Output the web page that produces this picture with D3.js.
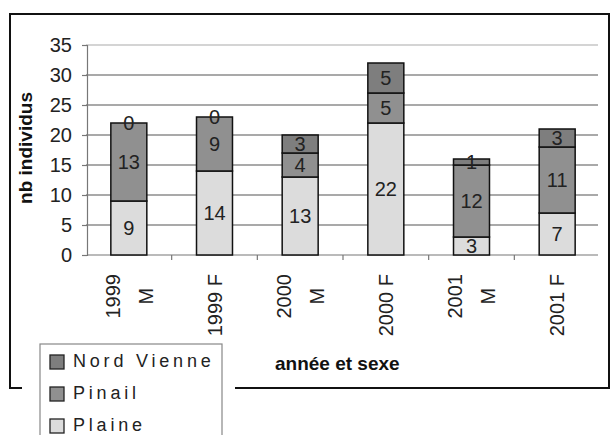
<!DOCTYPE html>
<html><head><meta charset="utf-8">
<script src="https://cdn.jsdelivr.net/npm/d3@7"></script>
<style>body{margin:0;background:#fff}svg{display:block}</style>
</head><body>
<script>
const categories = ["1999 M", "1999 F", "2000 M", "2000 F", "2001 M", "2001 F"];
const categoryLines = [["1999","M"],["1999 F"],["2000","M"],["2000 F"],["2001","M"],["2001 F"]];
const seriesNames = ["Plaine", "Pinail", "Nord Vienne"];
const plaine = [9, 14, 13, 22, 3, 7];
const pinail = [13, 9, 4, 5, 12, 11];
const nordVienne = [0, 0, 3, 5, 1, 3];
const yTicks = [0, 5, 10, 15, 20, 25, 30, 35];
const colors = {"Plaine": "#dcdcdc", "Pinail": "#909090", "Nord Vienne": "#7e7e7e"};

const W = 610, H = 435;
const font = "'Liberation Sans', Arial, sans-serif";
const svg = d3.select("body").append("svg").attr("width", W).attr("height", H);

const x = d3.scaleBand().domain(categories).range([86, 600]).paddingInner(0.58).paddingOuter(0.29);
const y = d3.scaleLinear().domain([0, 35]).range([255, 45]);

// frame
svg.append("path").attr("d", "M22,388 H10 V14 H609 V388 H235")
  .attr("fill", "none").attr("stroke", "#111").attr("stroke-width", 2);

// gridlines
svg.append("g").selectAll("line").data(yTicks.filter(d => d > 0)).join("line")
  .attr("x1", 86).attr("x2", 598).attr("y1", d => y(d)).attr("y2", d => y(d))
  .attr("stroke", d => d === 35 ? "#aaa" : "#555").attr("stroke-width", 1.2);

// y axis
const yAxis = d3.axisLeft(y).tickValues(yTicks).tickSize(5).tickPadding(10);
const gy = svg.append("g").attr("transform", "translate(87,0)").call(yAxis);
gy.select(".domain").attr("stroke", "#777").attr("stroke-width", 1.2);
gy.selectAll(".tick line").attr("stroke", "#777").attr("stroke-width", 1.2);
gy.selectAll(".tick text").attr("font-family", font).attr("font-size", 20).attr("fill", "#222");

// x axis
const boundaries = categories.slice(1).map(c => x(c) - x.step() * x.paddingInner() / 2);
svg.append("line").attr("x1", 87).attr("x2", 598).attr("y1", y(0)).attr("y2", y(0))
  .attr("stroke", "#777").attr("stroke-width", 1.2);
svg.append("g").selectAll("line").data(boundaries).join("line")
  .attr("x1", d => d).attr("x2", d => d).attr("y1", y(0)).attr("y2", y(0) + 5)
  .attr("stroke", "#777").attr("stroke-width", 1.2);

// stacked data
const table = categories.map((c, i) => ({cat: c, "Plaine": plaine[i], "Pinail": pinail[i], "Nord Vienne": nordVienne[i]}));
const stack = d3.stack().keys(seriesNames)(table);

const gBars = svg.append("g");
stack.forEach(layer => {
  const g = gBars.append("g");
  g.selectAll("rect").data(layer).join("rect")
    .attr("x", d => x(d.data.cat)).attr("width", x.bandwidth())
    .attr("y", d => y(d[1])).attr("height", d => y(d[0]) - y(d[1]))
    .attr("fill", colors[layer.key]).attr("stroke", "#111").attr("stroke-width", 1.5);
});
stack.forEach(layer => {
  svg.append("g").selectAll("text").data(layer).join("text")
    .attr("x", d => x(d.data.cat) + x.bandwidth() / 2)
    .attr("y", d => y((d[0] + d[1]) / 2))
    .attr("dy", "0.36em")
    .attr("text-anchor", "middle")
    .attr("font-family", font).attr("font-size", 20).attr("fill", "#222")
    .text(d => d[1] - d[0]);
});

// category labels
categories.forEach((c, i) => {
  const lines = categoryLines[i];
  const g = svg.append("g").attr("transform", `translate(${x(c) + x.bandwidth() / 2},274) rotate(-90)`);
  const texts = lines.map((l, j) => g.append("text")
    .attr("font-family", font).attr("font-size", 20).attr("fill", "#222")
    .attr("text-anchor", "middle").attr("dy", "0.36em")
    .attr("y", (j - (lines.length - 1) / 2) * 33).text(l));
  const L = d3.max(texts, t => t.node().getComputedTextLength());
  texts.forEach(t => t.attr("x", -L / 2));
});

// axis titles
svg.append("text").attr("transform", "translate(32,148) rotate(-90)")
  .attr("text-anchor", "middle").attr("font-family", font).attr("font-size", 19)
  .attr("font-weight", "bold").attr("fill", "#111").text("nb individus");
svg.append("text").attr("x", 275).attr("y", 370)
  .attr("font-family", font).attr("font-size", 19)
  .attr("font-weight", "bold").attr("fill", "#111").text("année et sexe");

// legend
const lg = svg.append("g");
lg.append("rect").attr("x", 40).attr("y", 344).attr("width", 182).attr("height", 110)
  .attr("fill", "#fff").attr("stroke", "#888").attr("stroke-width", 1.2);
const legendOrder = ["Nord Vienne", "Pinail", "Plaine"];
legendOrder.forEach((k, i) => {
  lg.append("rect").attr("x", 50).attr("y", 355 + i * 32).attr("width", 14).attr("height", 14)
    .attr("fill", colors[k]).attr("stroke", "#222").attr("stroke-width", 1.3);
  lg.append("text").attr("x", 73).attr("y", 367 + i * 32)
    .attr("font-family", font).attr("font-size", 18).attr("letter-spacing", "3.8px")
    .attr("fill", "#222").text(k);
});
</script>
</body></html>
